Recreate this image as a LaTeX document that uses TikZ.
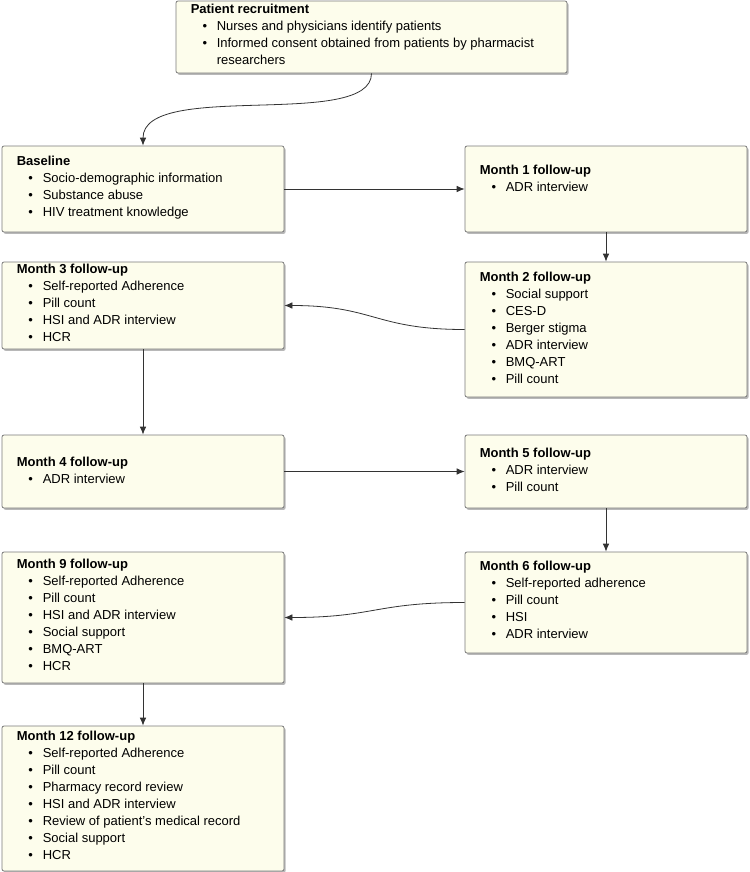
\documentclass[tikz,border=0pt]{standalone}
\usepackage{fontspec}
\setmainfont{Liberation Sans}
\usetikzlibrary{fit,shadows,arrows.meta}
\definecolor{boxfill}{HTML}{FDFDEC}
\definecolor{boxline}{HTML}{7A7A7A}
\definecolor{conn}{HTML}{333333}
\newcommand\bl[1]{\par\hspace*{8.8pt}\makebox[10.7pt][l]{•}#1}
\newcommand\cl[1]{\par\hspace*{19.5pt}#1}
\newcommand\boxtxt[2]{\parbox[t]{330pt}{\raggedright\textbf{#1}#2}}
\tikzset{
  box/.style={draw=boxline, fill=boxfill, line width=0.6pt, rounded corners=1.5pt,
    inner sep=0pt, drop shadow={shadow xshift=1.2pt, shadow yshift=-1.4pt, fill=black, opacity=0.28}},
  txt/.style={inner sep=0pt, anchor=base west, font=\fontsize{9.75pt}{12.75pt}\selectfont},
  conn/.style={draw=conn, line width=0.6pt, -{Latex[length=6pt,width=5pt]}}
}
\begin{document}
\begin{tikzpicture}[x=0.75pt,y=-0.75pt]
\useasboundingbox (0,0) rectangle (750,872);
% boxes
\node[box, fit={(176,1) (567,73)}] (rec) {};
\node[box, fit={(2,146) (284,232)}] (base) {};
\node[box, fit={(465,146) (747,232)}] (m1) {};
\node[box, fit={(465,262) (747,397)}] (m2) {};
\node[box, fit={(2,262) (284,349)}] (m3) {};
\node[box, fit={(2,435) (284,508)}] (m4) {};
\node[box, fit={(465,435) (747,508)}] (m5) {};
\node[box, fit={(465,552) (747,653)}] (m6) {};
\node[box, fit={(2,552) (284,683)}] (m9) {};
\node[box, fit={(2,726) (284,871)}] (m12) {};
% texts
\node[txt] (rect) at (190.5,13) {\boxtxt{Patient recruitment}{%
  \bl{Nurses and physicians identify patients}%
  \bl{Informed consent obtained from patients by pharmacist}%
  \cl{researchers}}};
\node[txt] (baset) at (16.5,165) {\boxtxt{Baseline}{%
  \bl{Socio-demographic information}%
  \bl{Substance abuse}%
  \bl{HIV treatment knowledge}}};
\node[txt] (m1t) at (479.5,174) {\boxtxt{Month 1 follow-up}{%
  \bl{ADR interview}}};
\node[txt] (m2t) at (479.5,281) {\boxtxt{Month 2 follow-up}{%
  \bl{Social support}%
  \bl{CES-D}%
  \bl{Berger stigma}%
  \bl{ADR interview}%
  \bl{BMQ-ART}%
  \bl{Pill count}}};
\node[txt] (m3t) at (16.5,273.5) {\boxtxt{Month 3 follow-up}{%
  \bl{Self-reported Adherence}%
  \bl{Pill count}%
  \bl{HSI and ADR interview}%
  \bl{HCR}}};
\node[txt] (m4t) at (16.5,466) {\boxtxt{Month 4 follow-up}{%
  \bl{ADR interview}}};
\node[txt] (m5t) at (479.5,457) {\boxtxt{Month 5 follow-up}{%
  \bl{ADR interview}%
  \bl{Pill count}}};
\node[txt] (m6t) at (479.5,570) {\boxtxt{Month 6 follow-up}{%
  \bl{Self-reported adherence}%
  \bl{Pill count}%
  \bl{HSI}%
  \bl{ADR interview}}};
\node[txt] (m9t) at (16.5,568) {\boxtxt{Month 9 follow-up}{%
  \bl{Self-reported Adherence}%
  \bl{Pill count}%
  \bl{HSI and ADR interview}%
  \bl{Social support}%
  \bl{BMQ-ART}%
  \bl{HCR}}};
\node[txt] (m12t) at (16.5,740) {\boxtxt{Month 12 follow-up}{%
  \bl{Self-reported Adherence}%
  \bl{Pill count}%
  \bl{Pharmacy record review}%
  \bl{HSI and ADR interview}%
  \bl{Review of patient's medical record}%
  \bl{Social support}%
  \bl{HCR}}};
% connectors
\draw[conn] (rec.south) .. controls +(0,57) and +(0,-66) .. (base.north);
\draw[conn] (base.east) -- (m1.west);
\draw[conn] (m1.south) -- (m2.north);
\draw[conn] (m2.west) .. controls +(-90,0) and +(90,0) .. (m3.east);
\draw[conn] (m3.south) -- (m4.north);
\draw[conn] (m4.east) -- (m5.west);
\draw[conn] (m5.south) -- (m6.north);
\draw[conn] (m6.west) .. controls +(-90,0) and +(90,0) .. (m9.east);
\draw[conn] (m9.south) -- (m12.north);
\end{tikzpicture}
\end{document}
